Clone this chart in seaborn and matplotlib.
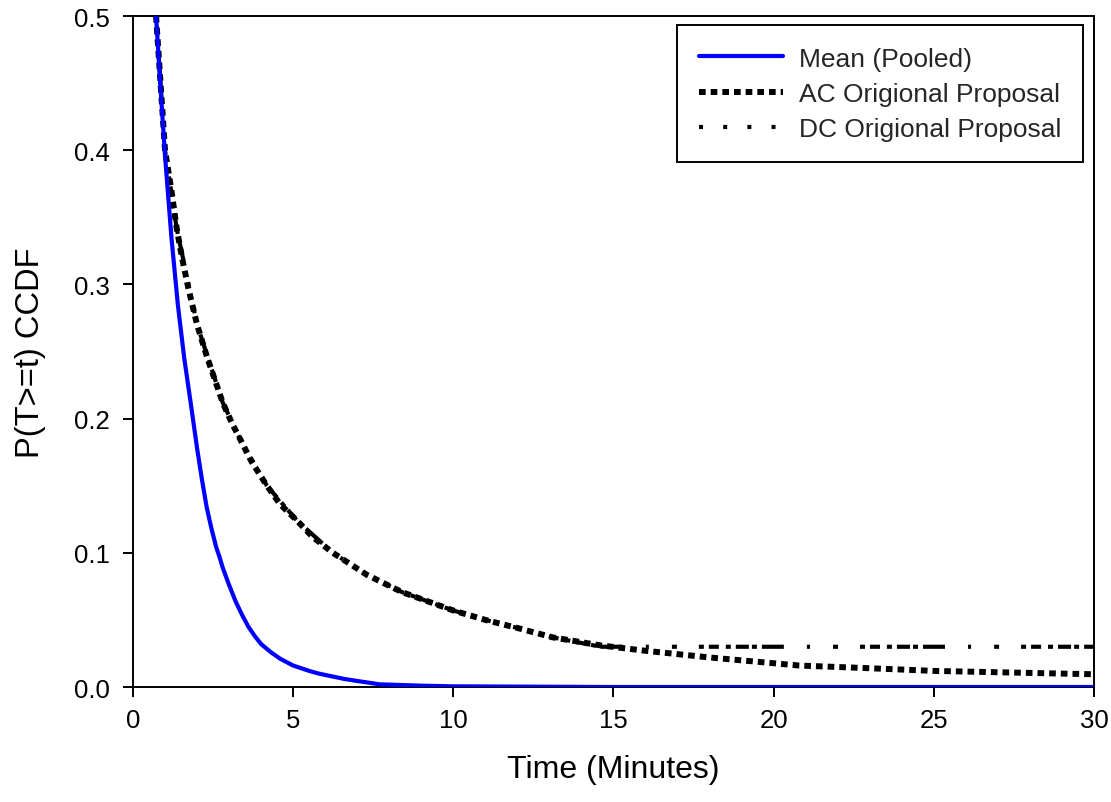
import numpy as np
import pandas as pd
import matplotlib
matplotlib.use("Agg")
import matplotlib.pyplot as plt
import seaborn as sns

# values
time_pooled = [0.72, 0.85, 1.0, 1.2, 1.4, 1.6, 1.8, 1.9, 2.0, 2.15, 2.3, 2.45, 2.6,
               2.7, 2.8, 3.0, 3.2, 3.4, 3.6, 3.8, 4.0, 4.3, 4.6, 4.8, 5.0, 5.25,
               5.5, 5.8, 6.2, 6.6, 7.0, 7.7, 9.0, 10.0, 15.0, 30.0]
ccdf_pooled = [0.50, 0.45, 0.396, 0.335, 0.285, 0.245, 0.212, 0.195, 0.178, 0.155,
               0.134, 0.118, 0.104, 0.097, 0.089, 0.076, 0.064, 0.054, 0.045, 0.038,
               0.032, 0.026, 0.021, 0.0185, 0.016, 0.014, 0.012, 0.010, 0.008,
               0.006, 0.0045, 0.002, 0.001, 0.0005, 0.0, 0.0]

time_ac = [0.72, 1.0, 1.2, 1.37, 1.53, 1.72, 2.0, 2.31, 2.8, 3.1, 3.34, 3.7, 4.18,
           4.6, 5.12, 5.6, 6.24, 7.3, 8.4, 10.0, 11.0, 12.0, 13.1, 14.6, 16.0,
           18.0, 20.8, 23.0, 25.0, 27.0, 30.0]
ccdf_ac = [0.50, 0.40, 0.37, 0.341, 0.32, 0.298, 0.27, 0.246, 0.212, 0.196, 0.185,
           0.168, 0.150, 0.136, 0.124, 0.112, 0.100, 0.0836, 0.0707, 0.057, 0.050,
           0.044, 0.037, 0.031, 0.027, 0.022, 0.016, 0.014, 0.012, 0.011, 0.0095]

time_dc = [0.72, 1.0, 1.37, 2.0, 2.8, 3.34, 4.18, 5.12, 6.24, 7.3, 8.4, 10.0,
           11.0, 12.0, 13.1, 14.6, 30.0]
ccdf_dc = [0.50, 0.40, 0.341, 0.27, 0.212, 0.185, 0.150, 0.124, 0.100, 0.0836,
           0.0707, 0.057, 0.050, 0.044, 0.037, 0.030, 0.030]

x_ticks = [0, 5, 10, 15, 20, 25, 30]
y_ticks = [0.0, 0.1, 0.2, 0.3, 0.4, 0.5]

sns.set_style("white")
plt.rcParams['font.family'] = ['Liberation Sans', 'DejaVu Sans']
plt.rcParams['lines.scale_dashes'] = False

fig = plt.figure(figsize=(11.11, 8.03), dpi=100)
ax = fig.add_axes([0.1197, 0.1432, 0.865, 0.8356])

sns.lineplot(x=time_pooled, y=ccdf_pooled, ax=ax, color='#0000ff', linewidth=3.0,
             label='Mean (Pooled)', estimator=None, sort=False, zorder=3)
sns.lineplot(x=time_ac, y=ccdf_ac, ax=ax, color='black', linewidth=4.3,
             label='AC Origional Proposal', estimator=None, sort=False, zorder=2)
sns.lineplot(x=time_dc, y=ccdf_dc, ax=ax, color='black', linewidth=3.0,
             label='DC Origional Proposal', estimator=None, sort=False, zorder=1)

# square dots for AC, irregular dash-dot look for DC
ac_dash = (4.8, 3.6)
dc_dash = (3.6, 3.6, 7.2, 5.0, 3.6, 3.6, 9.4, 2.2, 3.6, 3.6, 15.8, 16.6,
           2.2, 16.6, 3.6, 15.8)
ax.lines[1].set_dashes(ac_dash)
ax.lines[1].set_dash_capstyle('butt')
ax.lines[2].set_dashes(dc_dash)
ax.lines[2].set_dash_capstyle('butt')

ax.set_xlim(0, 30)
ax.set_ylim(0, 0.5)
ax.set_xticks(x_ticks)
ax.set_yticks(y_ticks)
ax.set_xticklabels([str(t) for t in x_ticks])
ax.set_yticklabels([f"{t:.1f}" for t in y_ticks])
ax.tick_params(axis='both', direction='out', length=7.2, width=1.4, labelsize=18.5,
               color='black', labelcolor='black', bottom=True, left=True)
ax.tick_params(axis='x', pad=8)
ax.tick_params(axis='y', pad=9.5)

for side in ['left', 'right', 'top', 'bottom']:
    ax.spines[side].set_visible(True)
    ax.spines[side].set_color('black')
    ax.spines[side].set_linewidth(1.4)

ax.set_xlabel('Time (Minutes)', fontsize=23, labelpad=16, color='black')
ax.set_ylabel('P(T>=t) CCDF', fontsize=23.5, labelpad=20, color='black')

leg = ax.legend(loc='upper right', fontsize=19, frameon=True, fancybox=False,
                handlelength=3.2, handletextpad=0.6, borderpad=0.82,
                labelspacing=0.42, borderaxespad=0,
                bbox_to_anchor=(0.9886, 0.9866))
leg.get_frame().set_edgecolor('black')
leg.get_frame().set_linewidth(1.4)
leg.get_frame().set_alpha(1)
leg_lines = leg.get_lines()
leg_lines[1].set_dashes(ac_dash)
leg_lines[1].set_dash_capstyle('butt')
leg_lines[2].set_dashes((2.9, 14.5))
leg_lines[2].set_dash_capstyle('butt')

fig.savefig('out.png', dpi=100)
